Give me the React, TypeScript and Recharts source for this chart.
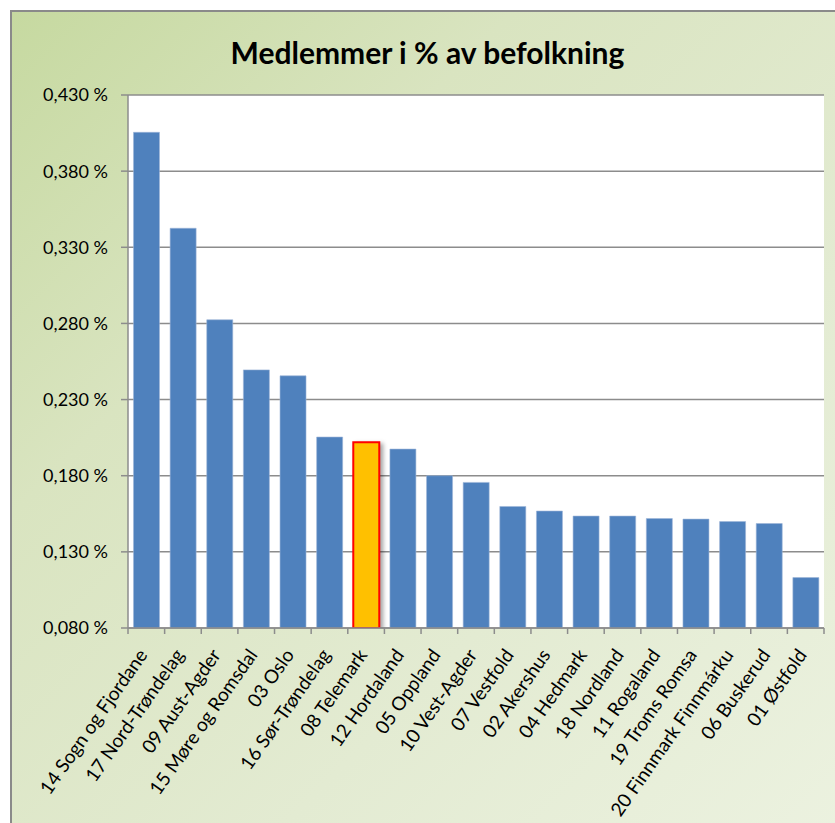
import React from 'react';
import { BarChart, Bar, XAxis, YAxis, CartesianGrid, Cell } from 'recharts';

const regions = [
  '14 Sogn og Fjordane',
  '17 Nord-Trøndelag',
  '09 Aust-Agder',
  '15 Møre og Romsdal',
  '03 Oslo',
  '16 Sør-Trøndelag',
  '08 Telemark',
  '12 Hordaland',
  '05 Oppland',
  '10 Vest-Agder',
  '07 Vestfold',
  '02 Akershus',
  '04 Hedmark',
  '18 Nordland',
  '11 Rogaland',
  '19 Troms Romsa',
  '20 Finnmark Finnmárku',
  '06 Buskerud',
  '01 Østfold'
];

const memberShare = [
  0.4055, 0.3425, 0.2824, 0.2495, 0.2456, 0.2054, 0.2019, 0.1975, 0.18, 0.1756,
  0.1598, 0.1568, 0.1535, 0.1535, 0.1519, 0.1515, 0.1499, 0.1486, 0.1131
];

const yTicks = [0.08, 0.13, 0.18, 0.23, 0.28, 0.33, 0.38, 0.43];
const highlighted = '08 Telemark';

const data = regions.map((name, i) => ({ name, value: memberShare[i] }));

const FONT = 'Lato, "Open Sans", sans-serif';
const GRAY = '#8c8c8c';

const fmtPct = (v: number) => v.toFixed(3).replace('.', ',') + ' %';

const XTick = (props: any) => {
  const { x, y, payload, index, width } = props;
  const half = width / regions.length / 2;
  const ax = x + 2;
  const ay = y + 27;
  return (
    <g>
      <line x1={x - half} y1={y} x2={x - half} y2={y + 6} stroke={GRAY} strokeWidth={1.5} />
      {index === regions.length - 1 && (
        <line x1={x + half} y1={y} x2={x + half} y2={y + 6} stroke={GRAY} strokeWidth={1.5} />
      )}
      <text
        x={ax}
        y={ay}
        transform={`rotate(-55, ${ax}, ${ay})`}
        textAnchor="end"
        fontSize={19}
        fontFamily={FONT}
        fill="#000"
      >
        {payload.value}
      </text>
    </g>
  );
};

export default function App() {
  return (
    <div style={{ position: 'absolute', left: 0, top: 0, width: 835, height: 823, background: '#fff', overflow: 'hidden' }}>
      <div
        style={{
          position: 'absolute',
          left: 10,
          top: 10,
          width: 840,
          height: 830,
          borderLeft: '2px solid #8a8a8a',
          borderTop: '2px solid #8a8a8a',
          background: 'linear-gradient(135deg, #c6d9a0 0%, #d9e4c0 30%, #e3ebd2 65%, #ecf2e0 100%)'
        }}
      />
      <div
        style={{
          position: 'absolute',
          left: 0,
          top: 34,
          width: 855,
          textAlign: 'center',
          fontFamily: FONT,
          fontWeight: 700,
          fontSize: 30
        }}
      >
        Medlemmer i % av befolkning
      </div>
      <div style={{ position: 'absolute', left: 0, top: 0 }}>
        <BarChart
          width={835}
          height={823}
          data={data}
          margin={{ top: 95, right: 11, bottom: 0, left: 0 }}
          barCategoryGap="15%"
        >
          <CartesianGrid vertical={false} horizontal stroke={GRAY} strokeWidth={1.5} fill="#fff" />
          <XAxis
            dataKey="name"
            interval={0}
            height={195}
            tickLine={false}
            tickSize={0}
            tickMargin={0}
            axisLine={{ stroke: GRAY, strokeWidth: 1.5 }}
            tick={<XTick />}
          />
          <YAxis
            width={128}
            domain={[0.08, 0.43]}
            ticks={yTicks}
            allowDataOverflow
            tickFormatter={fmtPct}
            tickSize={7}
            tickMargin={13}
            tickLine={{ stroke: GRAY, strokeWidth: 1.5 }}
            axisLine={{ stroke: GRAY, strokeWidth: 1.5 }}
            tick={{ fontSize: 18, fontFamily: FONT, fill: '#000' }}
          />
          <Bar dataKey="value" isAnimationActive={false}>
            {data.map((d) => (
              <Cell
                key={d.name}
                fill={d.name === highlighted ? '#ffc000' : '#4f81bd'}
                stroke={d.name === highlighted ? '#ff0000' : '#9db6d8'}
                strokeWidth={d.name === highlighted ? 2 : 0.6}
                style={d.name === highlighted ? { filter: 'drop-shadow(3px 2px 2px rgba(0,0,0,0.35))' } : undefined}
              />
            ))}
          </Bar>
        </BarChart>
      </div>
    </div>
  );
}
